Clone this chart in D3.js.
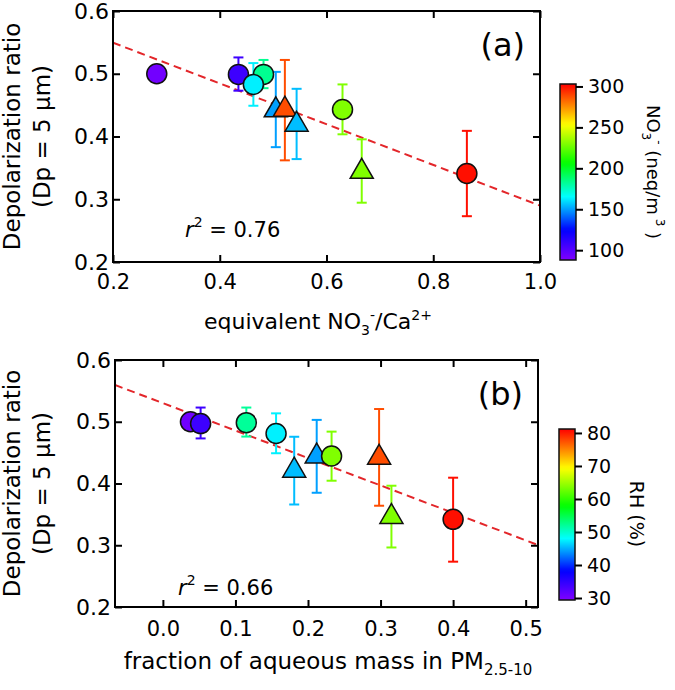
<!DOCTYPE html>
<html><head><meta charset="utf-8">
<script src="https://cdn.jsdelivr.net/npm/d3@7"></script>
<style>body{margin:0;background:#fff} svg{display:block}</style>
</head><body>
<svg id="c" width="675" height="690"></svg>
<script>
const FONT = "'DejaVu Sans', Verdana, sans-serif";

// ---------------- data ----------------
const yTicks = [0.2, 0.3, 0.4, 0.5, 0.6];

// panel (a): x = equivalent NO3-/Ca2+, colour = NO3- (neq/m3)
const aXTicks = [0.2, 0.4, 0.6, 0.8, 1.0];
const aCircX   = [0.282, 0.435, 0.482, 0.463, 0.630, 0.863];
const aCircY   = [0.500, 0.499, 0.499, 0.483, 0.443, 0.341];
const aCircLo  = [0.490, 0.473, 0.477, 0.449, 0.4035, 0.273];
const aCircHi  = [0.510, 0.526, 0.522, 0.517, 0.483, 0.409];
const aCircNO3 = [92, 107, 183, 163, 230, 300];
const aTriX    = [0.505, 0.522, 0.544, 0.666];
const aTriY    = [0.442, 0.443, 0.419, 0.344];
const aTriLo   = [0.383, 0.362, 0.364, 0.2945];
const aTriHi   = [0.503, 0.522, 0.476, 0.3955];
const aTriNO3  = [150, 288, 155, 230];
const aFitX = [0.2, 1.0];
const aFitY = [0.5495, 0.2898];
const cbATicks = [100, 150, 200, 250, 300];
const cbADomain = [88, 303];

// panel (b): x = fraction of aqueous mass in PM2.5-10, colour = RH (%)
const bXTicks = [0.0, 0.1, 0.2, 0.3, 0.4, 0.5];
const bCircX  = [0.038, 0.052, 0.115, 0.156, 0.2325, 0.400];
const bCircY  = [0.500, 0.497, 0.4985, 0.481, 0.4445, 0.342];
const bCircLo = [0.490, 0.473, 0.476, 0.449, 0.4045, 0.2734];
const bCircHi = [0.510, 0.523, 0.523, 0.5136, 0.484, 0.4094];
const bCircRH = [30.4, 34, 52, 47.5, 63.6, 80.5];
const bTriX   = [0.181, 0.212, 0.298, 0.315];
const bTriY   = [0.421, 0.444, 0.442, 0.346];
const bTriLo  = [0.366, 0.385, 0.364, 0.2964];
const bTriHi  = [0.4757, 0.503, 0.5206, 0.3964];
const bTriRH  = [45.5, 44.4, 77.6, 63.6];
const bFitX = [-0.066, 0.517];
const bFitY = [0.5595, 0.3004];
const cbBTicks = [30, 40, 50, 60, 70, 80];
const cbBDomain = [29.4, 81.2];

// rainbow colour table
const rainbowPos = [0, 0.17, 0.36, 0.55, 0.77, 1];
const rainbowCol = ["#8000ff", "#0000ff", "#00ffff", "#00ff00", "#ffff00", "#ff0000"];
const cmap = d3.scaleLinear().domain(rainbowPos).range(rainbowCol)
  .interpolate(d3.interpolateRgb).clamp(true);

const svg = d3.select("#c");
const defs = svg.append("defs");

function zip(xs, ys, lo, hi, cs) {
  return xs.map((v, i) => ({x: v, y: ys[i], lo: lo[i], hi: hi[i], c: cs[i]}));
}

function panel(cfg) {
  const g = svg.append("g").attr("font-family", FONT);
  const x = d3.scaleLinear().domain(cfg.xDomain).range([cfg.L, cfg.R]);
  const y = d3.scaleLinear().domain([0.2, 0.6]).range([cfg.B, cfg.T]);
  const cNorm = d3.scaleLinear().domain(cfg.cDomain).range([0, 1]);
  const color = v => cmap(cNorm(v));

  defs.append("clipPath").attr("id", "clip" + cfg.id)
    .append("rect").attr("x", cfg.L).attr("y", cfg.T)
    .attr("width", cfg.R - cfg.L).attr("height", cfg.B - cfg.T);

  // fit line
  g.append("path")
    .datum(cfg.fitX.map((v, i) => [v, cfg.fitY[i]]))
    .attr("clip-path", `url(#clip${cfg.id})`)
    .attr("d", d3.line().x(d => x(d[0])).y(d => y(d[1])))
    .attr("fill", "none").attr("stroke", "#e3262a")
    .attr("stroke-width", 2).attr("stroke-dasharray", "8,5");

  const tri = zip(cfg.triX, cfg.triY, cfg.triLo, cfg.triHi, cfg.triC);
  const circ = zip(cfg.circX, cfg.circY, cfg.circLo, cfg.circHi, cfg.circC);

  function errBars(data) {
    const eg = g.append("g").attr("stroke-width", 2).attr("fill", "none");
    data.forEach(d => {
      const c = color(d.c);
      eg.append("line").attr("x1", x(d.x)).attr("x2", x(d.x))
        .attr("y1", y(d.lo)).attr("y2", y(d.hi)).attr("stroke", c);
      [d.lo, d.hi].forEach(v => {
        eg.append("line").attr("x1", x(d.x) - 5).attr("x2", x(d.x) + 5)
          .attr("y1", y(v)).attr("y2", y(v)).attr("stroke", c);
      });
    });
  }
  errBars(tri);
  errBars(circ);

  const triSym = d3.symbol().type(d3.symbolTriangle).size(230);
  g.append("g").selectAll("path").data(tri).join("path")
    .attr("d", triSym)
    .attr("transform", d => `translate(${x(d.x)},${y(d.y)})`)
    .attr("fill", d => color(d.c)).attr("stroke", "#111").attr("stroke-width", 1.5);

  g.append("g").selectAll("circle").data(circ).join("circle")
    .attr("cx", d => x(d.x)).attr("cy", d => y(d.y)).attr("r", 10)
    .attr("fill", d => color(d.c)).attr("stroke", "#111").attr("stroke-width", 1.5);

  // axes
  const fmt = d3.format(".1f");
  const styleAxis = (sel, fs) => {
    sel.select(".domain").remove();
    sel.selectAll(".tick line").attr("stroke", "#000").attr("stroke-width", 2);
    sel.selectAll("text").attr("font-family", FONT).attr("font-size", fs).attr("fill", "#000");
  };
  g.append("g").attr("transform", `translate(0,${cfg.B})`)
    .call(d3.axisBottom(x).tickValues(cfg.xTicks).tickFormat(fmt).tickSize(-7).tickPadding(cfg.xPad))
    .call(s => styleAxis(s, cfg.xFs));
  g.append("g").attr("transform", `translate(0,${cfg.T})`)
    .call(d3.axisTop(x).tickValues(cfg.xTicks).tickFormat("").tickSize(-7))
    .call(s => styleAxis(s, cfg.xFs));
  g.append("g").attr("transform", `translate(${cfg.L},0)`)
    .call(d3.axisLeft(y).tickValues(yTicks).tickFormat(fmt).tickSize(-7).tickPadding(4))
    .call(s => styleAxis(s, 22));
  g.append("g").attr("transform", `translate(${cfg.R},0)`)
    .call(d3.axisRight(y).tickValues(yTicks).tickFormat("").tickSize(-7))
    .call(s => styleAxis(s, 22));

  g.append("rect").attr("x", cfg.L).attr("y", cfg.T)
    .attr("width", cfg.R - cfg.L).attr("height", cfg.B - cfg.T)
    .attr("fill", "none").attr("stroke", "#000").attr("stroke-width", 2);

  // y title
  const cy = (cfg.T + cfg.B) / 2;
  g.append("text").attr("transform", `translate(20,${cy}) rotate(-90)`)
    .attr("text-anchor", "middle").attr("font-size", 23).text("Depolarization ratio");
  g.append("text").attr("transform", `translate(49.5,${cy}) rotate(-90)`)
    .attr("text-anchor", "middle").attr("font-size", 23).text("(Dp = 5 \u00b5m)");

  // panel label
  g.append("text").attr("x", cfg.R - 15).attr("y", cfg.T + 45)
    .attr("text-anchor", "end").attr("font-size", 32).text(cfg.label);

  // r^2
  const rt = g.append("text").attr("x", cfg.rX).attr("y", cfg.rY).attr("font-size", 21);
  rt.append("tspan").attr("font-style", "italic").text("r");
  rt.append("tspan").attr("font-size", 14).attr("dy", -10).text("2");
  rt.append("tspan").attr("dy", 10).text(" = " + cfg.r2);

  // colour bar
  const cb = cfg.cb;
  const gid = "grad" + cfg.id;
  const grad = defs.append("linearGradient").attr("id", gid)
    .attr("x1", 0).attr("y1", 1).attr("x2", 0).attr("y2", 0);
  d3.range(0, 1.0001, 0.02).forEach(t => {
    grad.append("stop").attr("offset", t).attr("stop-color", cmap(t));
  });
  const cs = d3.scaleLinear().domain(cfg.cDomain).range([cb.B, cb.T]);
  g.append("rect").attr("x", cb.L).attr("y", cb.T).attr("width", cb.R - cb.L)
    .attr("height", cb.B - cb.T).attr("fill", `url(#${gid})`)
    .attr("stroke", "#111").attr("stroke-width", 1.5);
  g.append("g").attr("transform", `translate(${cb.R},0)`)
    .call(d3.axisRight(cs).tickValues(cfg.cbTicks).tickFormat(d3.format("d")).tickSize(7).tickPadding(5))
    .call(s => styleAxis(s, 19));
  cfg.cbTitle(g);
}

// panel (a)
panel({
  id: "a", L: 113, R: 540, T: 11, B: 262,
  xDomain: [0.2, 1.0], xTicks: aXTicks, xPad: 12, xFs: 21,
  circX: aCircX, circY: aCircY, circLo: aCircLo, circHi: aCircHi, circC: aCircNO3,
  triX: aTriX, triY: aTriY, triLo: aTriLo, triHi: aTriHi, triC: aTriNO3,
  fitX: aFitX, fitY: aFitY, cDomain: cbADomain, cbTicks: cbATicks,
  label: "(a)", r2: "0.76", rX: 185, rY: 237,
  cb: {L: 560, R: 576, T: 84, B: 260},
  cbTitle: g => {
    const t = g.append("text").attr("transform", "translate(647,172) rotate(90)")
      .attr("text-anchor", "middle").attr("font-size", 18);
    t.append("tspan").text("NO");
    t.append("tspan").attr("font-size", 12).attr("dy", 5).text("3");
    t.append("tspan").attr("font-size", 12).attr("dy", -13).text("-");
    t.append("tspan").attr("dy", 8).text("  (neq/m");
    t.append("tspan").attr("font-size", 12).attr("dy", -9).text(" 3");
    t.append("tspan").attr("dy", 9).text(" )");
  }
});

// x title (a)
{
  const t = svg.append("text").attr("font-family", FONT).attr("font-size", 22)
    .attr("x", 318).attr("y", 329).attr("text-anchor", "middle");
  t.append("tspan").text("equivalent NO");
  t.append("tspan").attr("font-size", 14).attr("dy", 6).text("3");
  t.append("tspan").attr("font-size", 14).attr("dy", -15).text("-");
  t.append("tspan").attr("dy", 9).text("/Ca");
  t.append("tspan").attr("font-size", 14).attr("dy", -9).text("2+");
}

// panel (b)
panel({
  id: "b", L: 115, R: 538, T: 360, B: 607,
  xDomain: [-0.066, 0.517], xTicks: bXTicks, xPad: 14, xFs: 21,
  circX: bCircX, circY: bCircY, circLo: bCircLo, circHi: bCircHi, circC: bCircRH,
  triX: bTriX, triY: bTriY, triLo: bTriLo, triHi: bTriHi, triC: bTriRH,
  fitX: bFitX, fitY: bFitY, cDomain: cbBDomain, cbTicks: cbBTicks,
  label: "(b)", r2: "0.66", rX: 178, rY: 595,
  cb: {L: 559, R: 575, T: 429, B: 600},
  cbTitle: g => {
    g.append("text").attr("transform", "translate(630,514) rotate(90)")
      .attr("text-anchor", "middle").attr("font-size", 19).text("RH (%)");
  }
});

// x title (b)
{
  const t = svg.append("text").attr("font-family", FONT).attr("font-size", 23)
    .attr("x", 328).attr("y", 669).attr("text-anchor", "middle");
  t.append("tspan").text("fraction of aqueous mass in PM");
  t.append("tspan").attr("font-size", 15).attr("dy", 6).text("2.5-10");
}
</script></body></html>
